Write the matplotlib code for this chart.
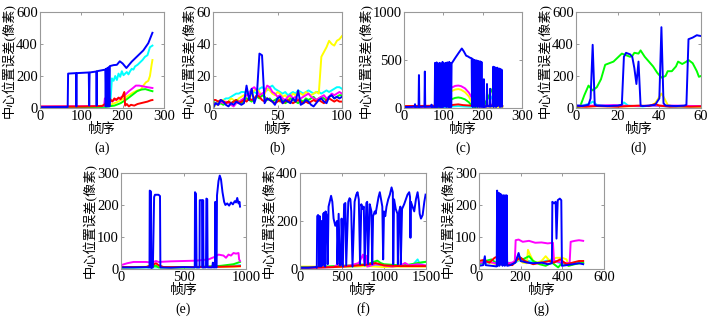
import numpy as np
import matplotlib
matplotlib.use('Agg')
import matplotlib.pyplot as plt

plt.rcParams['font.family'] = ['Liberation Serif', 'Noto Sans CJK SC']

# ---- panel (a) ----
a_blue_x = [0, 40, 67, 68, 87, 88, 89, 118, 119, 120, 136, 137, 138, 158, 159, 160, 162, 163, 165, 166, 168, 169,
            178, 186, 193, 200, 209, 222, 236, 250, 262, 272]
a_blue_y = [5, 6, 6, 215, 218, 10, 218, 222, 15, 222, 228, 15, 230, 240, 10, 245, 10, 250, 10, 255, 10, 262,
            268, 270, 292, 278, 250, 290, 325, 360, 405, 470]
a_cyan_x = [0, 60, 120, 160, 168, 171, 174, 178, 182, 186, 190, 194, 198, 202, 206, 210, 214, 218, 222, 226, 230,
            236, 242, 248, 254, 260, 266, 272]
a_cyan_y = [4, 5, 6, 8, 12, 60, 185, 170, 200, 175, 215, 195, 230, 205, 215, 225, 210, 230, 245, 240, 260,
            270, 285, 300, 320, 330, 380, 390]
a_yellow_x = [0, 80, 140, 170, 185, 200, 212, 224, 236, 244, 250, 256, 262, 266, 270, 272]
a_yellow_y = [8, 9, 12, 20, 35, 55, 75, 95, 110, 115, 140, 160, 170, 200, 270, 300]
a_magenta_x = [0, 80, 150, 155, 157, 159, 165, 175, 185, 195, 205, 215, 225, 232, 240, 250, 260, 272]
a_magenta_y = [10, 11, 12, 15, 60, 20, 35, 45, 55, 65, 80, 105, 125, 140, 140, 135, 130, 125]
a_green_x = [0, 100, 160, 180, 195, 210, 225, 235, 245, 255, 265, 272]
a_green_y = [4, 5, 8, 15, 30, 55, 85, 105, 115, 118, 110, 105]
a_red_x = [0, 100, 150, 158, 162, 166, 170, 175, 180, 185, 190, 195, 200, 204, 206, 210, 215, 220, 228, 236,
           244, 252, 260, 268, 272]
a_red_y = [8, 9, 12, 25, 45, 30, 55, 40, 60, 50, 65, 55, 75, 100, 15, 25, 10, 20, 15, 25, 30, 35, 40, 48, 50]

# ---- panel (b) ---- (every 2nd frame, 0..100)
b_frames = np.arange(0, 101, 2)
b_blue = [0, 3, 2, 5, 4, 2, 1, 3, 2, 4, 3, 2, 3, 14, 5, 12, 3, 8, 34, 33, 3, 6, 5, 4, 2, 6, 7, 3, 5, 4, 3, 6, 4,
          11, 2, 3, 5, 4, 2, 1, 3, 5, 6, 4, 3, 7, 8, 6, 7, 6, 7]
b_yellow = [0, 2, 3, 4, 5, 3, 4, 6, 5, 4, 6, 7, 8, 6, 5, 9, 11, 12, 10, 8, 9, 12, 11, 9, 8, 10, 9, 7, 8, 6, 7, 9,
            8, 10, 9, 8, 10, 9, 8, 9, 10, 9, 32, 35, 38, 42, 40, 39, 42, 43, 45]
b_cyan = [3, 3, 4, 4, 5, 6, 6, 7, 8, 9, 9, 10, 10, 9, 10, 11, 10, 9, 12, 13, 12, 11, 13, 14, 12, 11, 10, 9, 10, 8,
          9, 10, 9, 11, 10, 9, 10, 11, 10, 9, 10, 10, 9, 10, 11, 10, 11, 12, 13, 13, 12]
b_magenta = [2, 3, 2, 4, 3, 4, 3, 2, 1, 3, 4, 5, 6, 8, 9, 12, 13, 11, 8, 9, 10, 14, 13, 10, 9, 7, 8, 6, 5, 7, 8,
             6, 7, 5, 6, 7, 8, 9, 7, 6, 5, 6, 7, 8, 6, 7, 9, 8, 9, 10, 9]
b_green = [4, 3, 2, 3, 2, 3, 4, 3, 4, 5, 4, 3, 5, 6, 5, 4, 6, 7, 6, 8, 7, 5, 6, 4, 5, 6, 4, 5, 3, 4, 6, 5, 4, 3,
           5, 4, 6, 5, 6, 7, 5, 6, 7, 6, 5, 7, 8, 6, 7, 8, 8]
b_red = [5, 5, 4, 5, 4, 3, 4, 3, 4, 5, 3, 4, 5, 4, 6, 5, 6, 8, 7, 5, 4, 6, 5, 4, 3, 4, 5, 3, 4, 5, 4, 3, 4, 5, 4,
         3, 4, 3, 4, 5, 4, 5, 4, 3, 5, 6, 5, 4, 5, 4, 4]

# ---- panel (c) ----
c_blue_x = [0, 20, 27, 28, 29, 37, 38, 39, 52, 53, 54, 69, 70, 71, 78,
            79, 80, 82, 83, 84, 89, 90, 91, 92, 93, 97, 98, 99, 104, 105, 106, 109, 110, 111, 114, 115, 116,
            118, 119, 120,
            121, 130, 140, 147, 152, 158, 163, 167, 172,
            173, 174, 175, 176, 178, 179, 181, 182, 184, 185, 187, 188, 190, 191, 193, 194, 196, 197, 198,
            202, 203, 204, 210, 211, 212, 218, 219, 220,
            226, 227, 228, 230, 231, 233, 234, 237, 238, 240, 241, 243, 244, 246, 247, 248, 249]
c_blue_y = [10, 12, 15, 40, 10, 12, 343, 12, 15, 380, 12, 15, 35, 10, 12,
            470, 10, 10, 475, 10, 15, 470, 15, 465, 10, 10, 480, 10, 20, 470, 15, 10, 475, 30, 10, 480, 10,
            20, 470, 10,
            463, 520, 580, 620, 590, 545, 536, 525, 518,
            20, 510, 10, 505, 150, 500, 10, 495, 60, 495, 10, 490, 200, 485, 10, 485, 20, 480, 10,
            15, 300, 10, 15, 250, 20, 15, 200, 15,
            20, 430, 10, 425, 60, 420, 10, 420, 20, 410, 100, 410, 10, 400, 20, 400, 15]
c_magenta_x = [0, 60, 80, 90, 100, 110, 120, 130, 138, 145, 155, 165, 175, 182, 186, 190, 200, 210, 220, 226,
               232, 238, 244]
c_magenta_y = [10, 12, 15, 35, 110, 170, 210, 230, 234, 228, 205, 160, 90, 35, 20, 15, 15, 18, 20, 45,
               110, 160, 190]
c_yellow_x = [0, 60, 80, 90, 100, 110, 120, 130, 138, 145, 155, 165, 172, 178, 185, 200, 250]
c_yellow_y = [10, 12, 14, 30, 90, 140, 175, 192, 197, 190, 165, 120, 60, 25, 15, 14, 12]
c_green_x = [0, 90, 100, 110, 120, 130, 138, 145, 155, 165, 172, 178, 190, 200, 206, 214, 222, 230, 236, 244]
c_green_y = [5, 6, 20, 60, 90, 105, 110, 105, 90, 60, 25, 10, 15, 20, 45, 110, 180, 235, 270, 275]
c_cyan_x = [0, 100, 138, 170, 200, 206, 212, 218, 224, 230, 240, 250]
c_cyan_y = [5, 10, 20, 12, 15, 40, 90, 135, 100, 50, 25, 20]
c_red_x = [0, 50, 100, 120, 138, 150, 170, 190, 226, 230, 250]
c_red_y = [20, 22, 25, 30, 38, 30, 25, 20, 25, 32, 20]

# ---- panel (d) ----
d_green_x = [0, 2, 4, 6, 8, 10, 12, 14, 16, 18, 20, 22, 24, 26, 27, 28, 30, 31, 33, 35, 37, 39, 41, 43, 44, 46,
             48, 49, 51, 53, 54, 56, 58, 59, 60]
d_green_y = [5, 10, 80, 140, 110, 130, 180, 270, 280, 290, 315, 340, 330, 320, 325, 345, 340, 360, 320, 290,
             260, 220, 190, 200, 230, 230, 260, 290, 275, 290, 300, 280, 230, 195, 200]
d_blue_x = [0, 3, 6, 7, 8, 9, 10, 15, 20, 22, 23, 24, 26, 27, 28, 29, 30, 31, 32, 35, 38, 40, 41, 42, 43, 48,
            52, 53, 54, 56, 58, 59, 60]
d_blue_y = [15, 12, 20, 60, 395, 20, 15, 12, 15, 20, 320, 345, 335, 320, 250, 150, 290, 15, 12, 15, 20, 60,
            505, 30, 15, 12, 15, 20, 430, 440, 455, 452, 450]
d_cyan_x = [0, 4, 7, 8, 10, 14, 20, 22, 23, 25, 28, 32, 36, 40, 45, 50, 55, 60]
d_cyan_y = [15, 18, 30, 40, 20, 15, 12, 20, 35, 15, 12, 10, 15, 12, 10, 8, 10, 8]
d_yellow_x = [0, 10, 20, 30, 36, 38, 40, 41, 42, 44, 46, 50, 60]
d_yellow_y = [10, 12, 10, 12, 15, 30, 70, 90, 70, 20, 12, 10, 8]
d_magenta_x = [0, 6, 12, 18, 24, 30, 36, 42, 48, 54, 60]
d_magenta_y = [15, 14, 16, 18, 14, 12, 15, 14, 15, 13, 12]
d_red_x = [0, 5, 10, 15, 20, 25, 30, 35, 38, 40, 45, 50, 55, 60]
d_red_y = [10, 8, 12, 10, 8, 12, 15, 12, 25, 15, 8, 10, 8, 10]

# ---- panel (e) ----
e_blue_x = [0, 100, 200, 228, 230, 240, 242, 255, 265, 272, 300, 312, 315, 400, 500, 590, 592, 600, 605, 628,
            630, 648, 650, 655, 657, 660, 680, 683, 690, 693, 730, 735, 740, 752, 755, 760, 765, 768, 780, 790,
            800, 812, 825, 835, 850, 865, 880, 895, 910, 920, 930, 940, 948, 952]
e_blue_y = [5, 5, 6, 5, 245, 242, 3, 5, 225, 232, 232, 228, 5, 4, 6, 5, 240, 235, 5, 5,
            215, 215, 5, 5, 215, 5, 5, 220, 218, 5, 5, 20, 5, 5, 210, 5, 5, 230, 275, 292,
            280, 240, 210, 200, 205, 198, 208, 202, 212, 208, 222, 205, 210, 195]
e_magenta_x = [0, 50, 100, 200, 250, 280, 300, 400, 500, 600, 700, 750, 780, 820, 840, 860, 880, 900, 920, 940,
               945, 952]
e_magenta_y = [12, 18, 22, 22, 20, 25, 22, 24, 25, 26, 30, 38, 45, 42, 35, 45, 42, 50, 48, 50, 30, 25]
e_green_x = [0, 200, 280, 300, 500, 700, 800, 900, 952]
e_green_y = [5, 6, 10, 5, 5, 8, 10, 15, 22]
e_cyan_x = [0, 300, 600, 800, 900, 952]
e_cyan_y = [4, 5, 5, 8, 10, 12]
e_yellow_x = [0, 280, 400, 700, 952]
e_yellow_y = [5, 8, 5, 6, 8]
e_red_x = [0, 200, 260, 280, 300, 340, 600, 800, 900, 952]
e_red_y = [6, 6, 14, 18, 12, 6, 6, 7, 8, 9]

# ---- panel (f) ----
f_blue_x = [0, 100, 190, 200, 205, 215, 225, 228, 235, 250, 255, 270, 275, 290, 300, 305, 320, 330, 340, 360,
            370, 385, 400, 420, 440, 445, 460, 475, 490, 495, 510, 525, 540, 550, 575, 590, 600, 610, 625, 650,
            670, 685, 700, 715, 730, 745, 760, 770, 790, 800, 810, 830, 850, 860, 870, 890, 900, 915, 935, 950,
            965, 980, 990, 1000, 1015, 1030, 1050, 1070, 1090, 1105, 1110, 1120, 1140, 1160, 1165, 1180, 1195,
            1200, 1215, 1240, 1260, 1280, 1300, 1310, 1315, 1320, 1340, 1360, 1380, 1400, 1415, 1425, 1440,
            1460, 1480, 1495]
f_blue_y = [5, 5, 8, 5, 220, 225, 210, 10, 220, 10, 200, 15, 230, 235, 10, 240, 220, 20, 260, 290,
            305, 280, 210, 180, 200, 20, 230, 15, 20, 210, 10, 270, 275, 15, 280, 295, 290, 240, 10, 280,
            310, 320, 290, 20, 270, 250, 260, 15, 275, 280, 20, 270, 240, 20, 220, 240, 230, 260, 300, 320,
            290, 260, 40, 240, 220, 260, 290, 310, 340, 320, 20, 290, 250, 230, 20, 240, 260,
            20, 250, 270, 290, 310, 320, 300, 130, 280, 260, 240, 290, 320, 280, 230, 210,
            225, 280, 310]
f_magenta_x = [0, 200, 400, 500, 520, 600, 700, 750, 770, 790, 800, 900, 1000, 1100, 1200, 1250, 1300, 1400,
               1500]
f_magenta_y = [5, 6, 8, 30, 10, 15, 25, 60, 20, 55, 10, 20, 15, 10, 15, 25, 15, 20, 15]
f_green_x = [0, 200, 400, 600, 800, 880, 920, 960, 1000, 1200, 1300, 1400, 1500]
f_green_y = [8, 8, 12, 15, 20, 30, 35, 25, 20, 15, 18, 25, 30]
f_cyan_x = [0, 300, 600, 900, 1200, 1350, 1400, 1420, 1500]
f_cyan_y = [6, 8, 10, 15, 12, 20, 40, 25, 30]
f_yellow_x = [0, 200, 400, 600, 800, 900, 1000, 1200, 1500]
f_yellow_y = [10, 10, 8, 10, 12, 10, 8, 10, 10]
f_red_x = [0, 200, 400, 600, 700, 800, 900, 950, 1000, 1200, 1500]
f_red_y = [5, 6, 8, 12, 15, 18, 25, 20, 15, 12, 12]

# ---- panel (g) ----
g_blue_x = [0, 20, 28, 32, 60, 85, 87, 90, 95, 98, 103, 106, 110, 113, 116, 118, 121, 124, 128, 130, 133, 135,
            150, 175, 190, 200, 230, 260, 300, 330, 350, 352, 360, 368, 372, 378, 388, 395, 398, 420, 450, 480,
            500]
g_blue_y = [10, 12, 40, 12, 10, 8, 245, 10, 238, 10, 235, 15, 230, 10, 230, 20, 230, 10, 230, 15, 230, 10,
            12, 20, 50, 25, 20, 18, 20, 15, 18, 210, 205, 210, 95, 215, 220, 215, 10, 12, 15, 18, 15]
g_magenta_x = [0, 50, 100, 160, 172, 176, 190, 210, 240, 270, 300, 330, 355, 360, 400, 435, 440, 460, 480, 500]
g_magenta_y = [20, 22, 15, 20, 25, 90, 92, 85, 88, 82, 83, 80, 82, 25, 20, 18, 85, 88, 90, 88]
g_yellow_x = [0, 40, 80, 120, 160, 190, 210, 230, 235, 245, 260, 280, 300, 320, 340, 370, 400, 420, 430, 450,
              500]
g_yellow_y = [20, 22, 15, 15, 15, 30, 20, 18, 60, 45, 25, 20, 25, 40, 25, 35, 35, 30, 10, 15, 20]
g_green_x = [0, 30, 60, 90, 120, 160, 190, 210, 240, 260, 290, 320, 350, 380, 400, 430, 460, 500]
g_green_y = [15, 25, 30, 15, 20, 15, 40, 30, 40, 25, 15, 10, 20, 5, 20, 10, 15, 20]
g_cyan_x = [0, 40, 80, 120, 160, 200, 240, 280, 320, 350, 380, 420, 460, 500]
g_cyan_y = [15, 20, 18, 25, 15, 30, 25, 20, 25, 30, 20, 15, 20, 18]
g_red_x = [0, 20, 50, 75, 85, 95, 120, 160, 185, 200, 220, 260, 300, 340, 360, 390, 420, 450, 480, 500]
g_red_y = [25, 28, 20, 35, 38, 20, 15, 12, 30, 35, 25, 15, 20, 25, 20, 30, 15, 20, 25, 25]

COLORS = {'blue': '#0000ff', 'cyan': '#00ffff', 'yellow': '#ffff00',
          'magenta': '#ff00ff', 'green': '#00ff00', 'red': '#ff0000'}
ORDER = ['cyan', 'yellow', 'green', 'magenta', 'red', 'blue']

panels = [
    dict(box=(40, 12, 164, 108), label='(a)', xlim=300, ylim=600, xt=[0, 100, 200, 300], yt=[0, 200, 400, 600],
         s={'blue': (a_blue_x, a_blue_y), 'cyan': (a_cyan_x, a_cyan_y), 'yellow': (a_yellow_x, a_yellow_y),
            'magenta': (a_magenta_x, a_magenta_y), 'green': (a_green_x, a_green_y), 'red': (a_red_x, a_red_y)}),
    dict(box=(213, 12, 342, 108), label='(b)', xlim=100, ylim=60, xt=[0, 50, 100], yt=[0, 20, 40, 60],
         s={'blue': (b_frames, b_blue), 'cyan': (b_frames, b_cyan), 'yellow': (b_frames, b_yellow),
            'magenta': (b_frames, b_magenta), 'green': (b_frames, b_green), 'red': (b_frames, b_red)}),
    dict(box=(404, 12, 522, 108), label='(c)', xlim=300, ylim=1000, xt=[0, 100, 200, 300], yt=[0, 500, 1000],
         s={'blue': (c_blue_x, c_blue_y), 'cyan': (c_cyan_x, c_cyan_y), 'yellow': (c_yellow_x, c_yellow_y),
            'magenta': (c_magenta_x, c_magenta_y), 'green': (c_green_x, c_green_y), 'red': (c_red_x, c_red_y)}),
    dict(box=(576, 12, 701, 108), label='(d)', xlim=60, ylim=600, xt=[0, 20, 40, 60], yt=[0, 200, 400, 600],
         s={'blue': (d_blue_x, d_blue_y), 'cyan': (d_cyan_x, d_cyan_y), 'yellow': (d_yellow_x, d_yellow_y),
            'magenta': (d_magenta_x, d_magenta_y), 'green': (d_green_x, d_green_y), 'red': (d_red_x, d_red_y)}),
    dict(box=(121, 173, 246, 269), label='(e)', xlim=1000, ylim=300, xt=[0, 500, 1000], yt=[0, 100, 200, 300],
         s={'blue': (e_blue_x, e_blue_y), 'cyan': (e_cyan_x, e_cyan_y), 'yellow': (e_yellow_x, e_yellow_y),
            'magenta': (e_magenta_x, e_magenta_y), 'green': (e_green_x, e_green_y), 'red': (e_red_x, e_red_y)}),
    dict(box=(300, 173, 426, 269), label='(f)', xlim=1500, ylim=400, xt=[0, 500, 1000, 1500], yt=[0, 200, 400],
         s={'blue': (f_blue_x, f_blue_y), 'cyan': (f_cyan_x, f_cyan_y), 'yellow': (f_yellow_x, f_yellow_y),
            'magenta': (f_magenta_x, f_magenta_y), 'green': (f_green_x, f_green_y), 'red': (f_red_x, f_red_y)}),
    dict(box=(479, 173, 604, 269), label='(g)', xlim=600, ylim=300, xt=[0, 200, 400, 600], yt=[0, 100, 200, 300],
         s={'blue': (g_blue_x, g_blue_y), 'cyan': (g_cyan_x, g_cyan_y), 'yellow': (g_yellow_x, g_yellow_y),
            'magenta': (g_magenta_x, g_magenta_y), 'green': (g_green_x, g_green_y), 'red': (g_red_x, g_red_y)}),
]

W, H = 709, 319
fig = plt.figure(figsize=(W / 100, H / 100), dpi=100)

for p in panels:
    x0, y0, x1, y1 = p['box']
    ax = fig.add_axes([x0 / W, 1 - y1 / H, (x1 - x0) / W, (y1 - y0) / H])
    for name in ORDER:
        xs, ys = p['s'][name]
        ax.plot(xs, ys, color=COLORS[name], lw=1.4)
    ax.set_xlim(0, p['xlim'])
    ax.set_ylim(0, p['ylim'])
    ax.set_xticks(p['xt'])
    ax.set_yticks(p['yt'])
    ax.tick_params(direction='in', length=2.5, width=0.6, labelsize=10.5, pad=1.5,
                   top=True, right=True, colors='#888888', labelcolor='black')
    for sp in ax.spines.values():
        sp.set_color('#999999')
        sp.set_linewidth(0.8)
    ax.set_xlabel('帧序', fontsize=10, labelpad=0)
    ax.set_ylabel('中心位置误差(像素)', fontsize=9.5, labelpad=0)
    fig.text((x0 + x1) / 2 / W, 1 - (y1 + 40) / H, p['label'], ha='center', va='center', fontsize=10)

fig.savefig('out.png', dpi=100)
